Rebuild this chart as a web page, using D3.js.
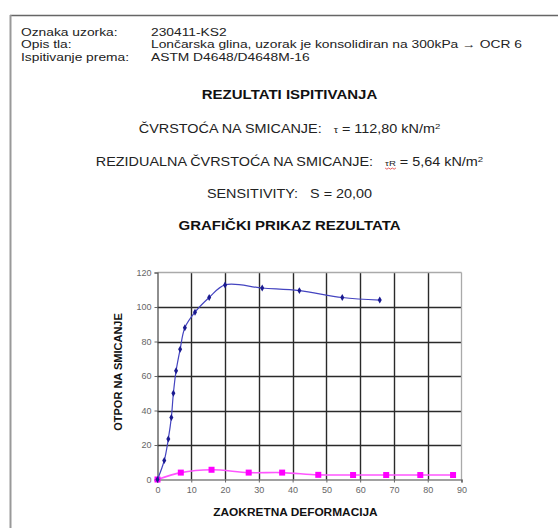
<!DOCTYPE html>
<html><head><meta charset="utf-8">
<script src="https://cdn.jsdelivr.net/npm/d3@7"></script>
<style>html,body{margin:0;padding:0;background:#fff;}svg{display:block;font-family:"Liberation Sans",Arial,sans-serif;}</style>
</head><body>
<script>
// ---- data ----
const headerLabels = ["Oznaka uzorka:", "Opis tla:", "Ispitivanje prema:"];
const headerValues = ["230411-KS2", "Lončarska glina, uzorak je konsolidiran na 300kPa → OCR 6", "ASTM D4648/D4648M-16"];
const peakX = [0, 2, 3.2, 4.1, 4.7, 5.5, 6.7, 8.1, 11.1, 15.3, 20, 31, 42, 54.7, 65.8];
const peakY = [0, 11, 23.5, 36, 50, 63, 75.5, 88, 97, 105.5, 112.8, 111, 109.5, 105.5, 104];
const resX = [0, 6.9, 16, 27, 36.9, 47.6, 57.9, 67.7, 77.8, 87.5];
const resY = [0, 4, 5.64, 4, 4, 2.7, 2.6, 2.6, 2.6, 2.6];
const xTicks = [0, 10, 20, 30, 40, 50, 60, 70, 80, 90];
const yTicks = [0, 20, 40, 60, 80, 100, 120];

const W = 558, H = 528;
const K = 1.2; // horizontal stretch of the document text
const svg = d3.select("body").append("svg").attr("width", W).attr("height", H);
svg.append("rect").attr("width", W).attr("height", H).attr("fill", "#fff");

// frame
svg.append("line").attr("x1", 10).attr("x2", W).attr("y1", 15.5).attr("y2", 15.5).attr("stroke", "#666").attr("stroke-width", 1.3);
svg.append("line").attr("x1", 10.5).attr("x2", 10.5).attr("y1", 15).attr("y2", H).attr("stroke", "#999").attr("stroke-width", 2);

// header
headerLabels.forEach((t, i) => {
  const yy = 35.5 + i * 12.9;
  svg.append("g").attr("transform", `translate(21,${yy}) scale(${K},1)`)
    .append("text").attr("font-size", 11.5).attr("fill", "#222").text(t);
  svg.append("g").attr("transform", `translate(151,${yy}) scale(${K},1)`)
    .append("text").attr("font-size", 11.5).attr("fill", "#222").text(headerValues[i]);
});

const cx = 289.5;
function centered(yy, size, bold) {
  return svg.append("g").attr("transform", `translate(${cx},${yy}) scale(${K},1)`)
    .append("text").attr("text-anchor", "middle").attr("font-size", size)
    .attr("font-weight", bold ? "bold" : "normal").attr("fill", bold ? "#111" : "#222");
}
centered(99, 12.5, true).text("REZULTATI ISPITIVANJA");

const t1 = centered(132.5, 12, false);
t1.append("tspan").text("ČVRSTOĆA NA SMICANJE:\u00a0\u00a0\u00a0");
t1.append("tspan").attr("font-size", 9).text("τ");
t1.append("tspan").text(" = 112,80 kN/m");
t1.append("tspan").attr("font-size", 8).attr("dy", -4).text("2");

const t2 = centered(165.5, 12, false);
const pre2 = "REZIDUALNA ČVRSTOĆA NA SMICANJE:\u00a0\u00a0\u00a0";
t2.append("tspan").text(pre2);
t2.append("tspan").attr("font-size", 8).text("τR");
t2.append("tspan").text(" = 5,64 kN/m");
t2.append("tspan").attr("font-size", 8).attr("dy", -4).text("2");
// red spell-check squiggle under τR
{
  const n = t2.node();
  const s = n.getStartPositionOfChar(pre2.length);
  const e = n.getEndPositionOfChar(pre2.length + 1);
  let d = `M${s.x},${s.y + 2.5}`;
  for (let xx = s.x, k = 0; xx < e.x; xx += 1.5, k++) d += `L${xx + 1.5},${s.y + (k % 2 ? 2.5 : 3.7)}`;
  d3.select(n.parentNode).append("path").attr("d", d).attr("fill", "none").attr("stroke", "#e03030").attr("stroke-width", 0.7);
}

centered(197.5, 12, false).text("SENSITIVITY:\u00a0\u00a0\u00a0S = 20,00");
centered(230, 12.5, true).text("GRAFIČKI PRIKAZ REZULTATA");

// chart
const x = d3.scaleLinear().domain([0, 90]).range([157.5, 461.5]);
const y = d3.scaleLinear().domain([0, 120]).range([479.5, 272.5]);

const g = svg.append("g");
// grid
g.selectAll(".vg").data(xTicks.slice(1, -1)).join("line")
  .attr("x1", d => Math.round(x(d)) + 0.5).attr("x2", d => Math.round(x(d)) + 0.5)
  .attr("y1", y(120)).attr("y2", y(0)).attr("stroke", "#2a2a2a").attr("stroke-width", 1.4);
g.selectAll(".hg").data(yTicks.slice(1, -1)).join("line")
  .attr("x1", x(0)).attr("x2", x(90))
  .attr("y1", d => Math.round(y(d)) + 0.5).attr("y2", d => Math.round(y(d)) + 0.5).attr("stroke", "#2a2a2a").attr("stroke-width", 1.4);
// plot border
g.append("line").attr("x1", x(0)).attr("x2", x(90)).attr("y1", y(120)).attr("y2", y(120)).attr("stroke", "#aaa").attr("stroke-width", 1.3);
g.append("line").attr("x1", x(90)).attr("x2", x(90)).attr("y1", y(120)).attr("y2", y(0)).attr("stroke", "#aaa").attr("stroke-width", 1.3);

// axes
const xAxis = d3.axisBottom(x).tickValues(xTicks).tickSize(3).tickPadding(4);
const yAxis = d3.axisLeft(y).tickValues(yTicks).tickSize(3).tickPadding(3);
const gx = g.append("g").attr("transform", `translate(0,${y(0)})`).call(xAxis);
const gy = g.append("g").attr("transform", `translate(${x(0)},0)`).call(yAxis);
[gx, gy].forEach(a => {
  a.select(".domain").attr("stroke", "#444").attr("stroke-width", 1.2);
  a.selectAll(".tick line").attr("stroke", "#666");
  a.selectAll("text").attr("font-family", "'Liberation Sans', Arial, sans-serif").attr("font-size", 9).attr("fill", "#666");
});

// series
const line = d3.line().x(d => x(d[0])).y(d => y(d[1])).curve(d3.curveCatmullRom.alpha(0.5));
const peak = peakX.map((v, i) => [v, peakY[i]]);
const res = resX.map((v, i) => [v, resY[i]]);

g.append("path").datum(res).attr("d", line).attr("fill", "none").attr("stroke", "#ff55ff").attr("stroke-width", 1.6);
g.selectAll(".rm").data(res).join("rect")
  .attr("x", d => x(d[0]) - 3).attr("y", d => y(d[1]) - 3).attr("width", 6).attr("height", 6).attr("fill", "#ff00ff");

g.append("path").datum(peak).attr("d", line).attr("fill", "none").attr("stroke", "#4444c0").attr("stroke-width", 1.2);
g.selectAll(".pm").data(peak).join("path")
  .attr("d", d3.symbol(d3.symbolDiamond, 14))
  .attr("transform", d => `translate(${x(d[0])},${y(d[1])})`).attr("fill", "#1a1a90");

// axis titles
svg.append("text").attr("transform", "translate(122,372) rotate(-90)").attr("text-anchor", "middle")
  .attr("font-size", 11).attr("font-weight", "bold").attr("fill", "#111").text("OTPOR NA SMICANJE");
svg.append("g").attr("transform", "translate(295.5,516) scale(1.08,1)").append("text").attr("text-anchor", "middle")
  .attr("font-size", 11).attr("font-weight", "bold").attr("fill", "#111").text("ZAOKRETNA DEFORMACIJA");
</script>
</body></html>
